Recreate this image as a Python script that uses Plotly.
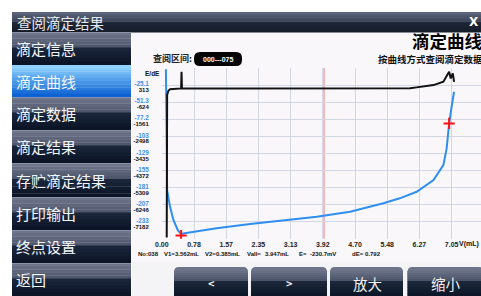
import plotly.graph_objects as go

W, H = 481, 296

# ---------------- data ----------------
e_volume = [0.10, 0.11, 0.12, 0.13, 0.20, 0.28, 0.39, 0.47, 0.52, 1.33, 2.15, 2.96,
            3.77, 4.58, 5.39, 5.79, 6.20, 6.61, 6.85, 6.93, 6.99, 7.05, 7.11]
e_potential = [-1, -60, -120, -185, -210, -230, -246, -252, -251, -243, -236.5, -231.5,
               -225.4, -217.8, -205.0, -197.4, -187.4, -169.6, -146.8, -121.4, -83.4, -58.1, -35.3]

de_volume = [0.12, 0.13, 0.16, 0.20, 0.28, 0.39, 0.47, 0.48, 0.49, 1.50, 3.00, 4.50,
             6.04, 6.20, 6.61, 6.85, 6.97, 6.99, 7.03, 7.08, 7.11]
de_value = [-8050, -235, 0, 80, 95, 130, 130, 1042, 130, 130, 130, 132,
            135, 187, 313, 494, 954, 1042, 680, 954, 494]

endpoint_volume = [0.47, 6.99]
endpoint_potential = [-254, -83.4]
cursor_volume = 3.947

x_tick_text = ["0.00", "0.78", "1.57", "2.35", "3.13", "3.92", "4.70", "5.48", "6.27", "7.05"]
e_tick_text = ["-25.1", "-51.3", "-77.2", "-103", "-129", "-155", "-181", "-207", "-233"]
de_tick_text = ["313", "-624", "-1561", "-2498", "-3435", "-4372", "-5309", "-6246", "-7182"]

menu_items = ["滴定信息", "滴定曲线", "滴定数据", "滴定结果", "存贮滴定结果", "打印输出", "终点设置", "返回"]
bottom_buttons = ["<", ">", "放大", "缩小"]
info_fields = ["No:038", "V1=", "3.562mL", "V2=", "0.385mL", "Vall=", "3.947mL", "E=", "-230.7mV", "dE=", "0.792"]

# ---------------- scales ----------------
x_step = 7.05 / 9
x_tickvals = [i * x_step for i in range(len(x_tick_text))]
x_zero_px = 161.8
x_step_px = 32.2
x_max = (W - x_zero_px) / x_step_px * x_step

e_step = (233 - 25.1) / 8
e_tickvals = [-25.1 - i * e_step for i in range(9)]
e_range = [-25.1 - 9 * e_step, -25.1 + e_step]
de_step = (313 + 7182) / 8
de_tickvals = [313 - i * de_step for i in range(9)]
de_range = [313 - 9 * de_step, 313 + de_step]

plot_top_px, plot_bot_px = 68.0, 238.8


def px(x):
    return x / W


def py(y):
    return 1 - y / H


shapes = []
annotations = []


def rect(x0, y0, x1, y1, color):
    shapes.append(dict(type="rect", xref="paper", yref="paper", x0=px(x0), x1=px(x1),
                       y0=py(y1), y1=py(y0), fillcolor=color, line=dict(width=0), layer="below"))


def mix(c1, c2, t):
    a = [int(c1[i:i + 2], 16) for i in (1, 3, 5)]
    b = [int(c2[i:i + 2], 16) for i in (1, 3, 5)]
    return "#%02x%02x%02x" % tuple(round(a[k] + (b[k] - a[k]) * t) for k in range(3))


def grad(x0, y0, x1, y1, ctop, cbot, n=6):
    h = (y1 - y0) / n
    for i in range(n):
        rect(x0, y0 + i * h, x1, y0 + (i + 1) * h + 0.4, mix(ctop, cbot, i / max(n - 1, 1)))


def glossy(x0, y0, x1, y1, c1, c2, c3, c4, split=0.47):
    ym = y0 + (y1 - y0) * split
    grad(x0, y0, x1, ym, c1, c2, 5)
    grad(x0, ym, x1, y1, c3, c4, 5)


def text(x, y, s, size, color="#000", anchor="left", bold=False, family="Noto Sans CJK SC"):
    annotations.append(dict(x=px(x), y=py(y), xref="paper", yref="paper", text=s, showarrow=False,
                            xanchor=anchor, yanchor="middle",
                            font=dict(size=size, color=color, family=family,
                                      weight="bold" if bold else "normal")))


# background
rect(0, 0, W, H, "#ffffff")
rect(132, 32, W, 262, "#f9f7fa")
rect(132, 262, W, H, "#f4f3f6")

# title bar
glossy(12, 12, W, 32, "#5c6479", "#3f485c", "#1f2838", "#151d2b")
text(15, 22, "查阅滴定结果", 14.5, "#e6e8ee")
text(481, 22, "X", 12, "#ffffff", anchor="right", bold=True, family="DejaVu Sans")

# left menu
menu_edges = [32, 65, 97, 130, 163, 197, 230, 263, 296]
for i, label in enumerate(menu_items):
    y0, y1 = menu_edges[i], menu_edges[i + 1]
    if i == 1:
        grad(12, y0, 131, y1, "#8fd2ff", "#0c62d2", 10)
    else:
        glossy(12, y0, 131, y1, "#6f768b", "#4f576c", "#1a253a", "#0b1526")
        rect(12, y0, 131, y0 + 1, "#8a92a8")
    text(13.5, (y0 + y1) / 2, label, 15, "#f4f6fa")

# bottom buttons
btn_edges = [(174, 248), (251, 327), (330, 403), (407.5, 484)]
for (x0, x1), label in zip(btn_edges, bottom_buttons):
    y0, y1 = 267, 296
    r = 5
    path = (f"M {px(x0)},{py(y1)} L {px(x0)},{py(y0 + r)} Q {px(x0)},{py(y0)} {px(x0 + r)},{py(y0)} "
            f"L {px(x1 - r)},{py(y0)} Q {px(x1)},{py(y0)} {px(x1)},{py(y0 + r)} L {px(x1)},{py(y1)} Z")
    shapes.append(dict(type="path", path=path, xref="paper", yref="paper",
                       fillcolor="#6d748a", line=dict(width=0), layer="below"))
    glossy(x0, y0 + 4, x1, y1, "#676e84", "#4d556a", "#1c273b", "#0d1729", split=0.4)
    text((x0 + x1) / 2 if len(label) == 1 else x0 + 21, 283, label, 14.5 if len(label) > 1 else 11,
         "#eef0f4", anchor="center" if len(label) == 1 else "left", bold=len(label) == 1)

# chart header texts
text(410, 41, "滴定曲线", 17.5, "#000000", bold=True)
text(376, 59.5, "按曲线方式查阅滴定数据", 9.5, "#111111", bold=True)
text(151, 58.5, "查阅区间:", 9, "#222222", bold=True)
bx0, bx1, by0, by1, rr = 194, 242, 52, 66, 6
box = (f"M {px(bx0 + rr)},{py(by0)} L {px(bx1 - rr)},{py(by0)} Q {px(bx1)},{py(by0)} {px(bx1)},{py(by0 + rr)} "
       f"L {px(bx1)},{py(by1 - rr)} Q {px(bx1)},{py(by1)} {px(bx1 - rr)},{py(by1)} "
       f"L {px(bx0 + rr)},{py(by1)} Q {px(bx0)},{py(by1)} {px(bx0)},{py(by1 - rr)} "
       f"L {px(bx0)},{py(by0 + rr)} Q {px(bx0)},{py(by0)} {px(bx0 + rr)},{py(by0)} Z")
shapes.append(dict(type="path", path=box, xref="paper", yref="paper", fillcolor="#050505",
                   line=dict(width=0), layer="below"))
text(218, 59.5, "000---075", 7, "#ffffff", anchor="center", bold=True, family="Liberation Sans")

# axis captions and info line
text(152, 73.5, "E/dE", 6.5, "#111111", anchor="center", bold=True, family="Liberation Sans")
text(457, 243.5, "V(mL)", 7, "#111111", bold=True, family="Liberation Sans")
info_x = [136, 161.5, 173, 203, 214, 245, 263, 297, 307.5, 350, 363]
for xx, s in zip(info_x, info_fields):
    text(xx, 253.5, s, 6, "#111111", bold=True, family="Liberation Sans")

# cursor line
shapes.append(dict(type="line", xref="x", yref="y domain", x0=cursor_volume, x1=cursor_volume,
                   y0=0, y1=1, line=dict(color="#f2a4a8", width=1.5), layer="below"))

fig = go.Figure()
fig.add_trace(go.Scatter(x=e_volume, y=e_potential, mode="lines",
                         line=dict(color="#2f8ff0", width=2), yaxis="y", hoverinfo="skip"))
fig.add_trace(go.Scatter(x=de_volume, y=de_value, mode="lines",
                         line=dict(color="#111111", width=2), yaxis="y2", hoverinfo="skip"))
fig.add_trace(go.Scatter(x=endpoint_volume, y=endpoint_potential, mode="markers",
                         marker=dict(symbol="cross-thin", size=8, line=dict(color="#ff1010", width=2)),
                         yaxis="y", hoverinfo="skip"))

fig.update_layout(
    width=W, height=H, autosize=False,
    margin=dict(l=0, r=0, t=0, b=0, pad=0),
    paper_bgcolor="#ffffff", plot_bgcolor="rgba(0,0,0,0)",
    showlegend=False,
    shapes=shapes, annotations=annotations,
    xaxis=dict(domain=[px(x_zero_px), 1.0], range=[0, x_max], tickvals=x_tickvals, ticktext=x_tick_text,
               showgrid=True, gridcolor="#d3d7e4", gridwidth=1, zeroline=False, showline=False, ticks="",
               automargin=False,
               tickfont=dict(family="Liberation Sans", size=7, color="#222222", weight="bold")),
    yaxis=dict(domain=[py(plot_bot_px), py(plot_top_px)], range=e_range, tickvals=e_tickvals,
               ticktext=e_tick_text, showgrid=True, gridcolor="#d3d7e4", gridwidth=1, zeroline=False,
               showline=False, ticks="", ticklabelshift=-1, ticklabelstandoff=12, automargin=False,
               tickfont=dict(family="Liberation Sans", size=6.3, color="#3a8ff0", weight="bold")),
    yaxis2=dict(overlaying="y", side="left", anchor="x", range=de_range, tickvals=de_tickvals,
                ticktext=de_tick_text, showgrid=False, zeroline=False, showline=False, ticks="",
                ticklabelshift=5, ticklabelstandoff=12, automargin=False,
                tickfont=dict(family="Liberation Sans", size=6, color="#111111", weight="bold")),
)

fig.write_html("out.html", config={"displayModeBar": False, "staticPlot": True},
               post_script="document.body.style.margin='0px';document.body.style.overflow='hidden';")
